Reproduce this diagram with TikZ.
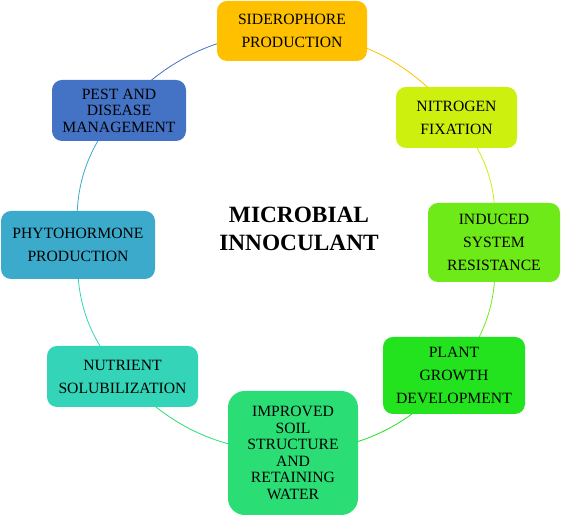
\documentclass[tikz,border=0pt]{standalone}
\usepackage{fontspec}
\setmainfont{Liberation Serif}
\usetikzlibrary{positioning,backgrounds}
\definecolor{sidero}{HTML}{FFC000}
\definecolor{nitro}{HTML}{CDF00E}
\definecolor{induced}{HTML}{6EEA18}
\definecolor{growth}{HTML}{22E31D}
\definecolor{soil}{HTML}{2ADD75}
\definecolor{nutri}{HTML}{33D4B8}
\definecolor{phyto}{HTML}{3BAACB}
\definecolor{pest}{HTML}{4472C4}

\begin{document}
\begin{tikzpicture}[x=0.75pt,y=0.75pt,
  box/.style={rounded corners=7.5pt,align=center,inner sep=0pt,font=\fontsize{11.75}{17.25}\selectfont},
  tight/.style={font=\fontsize{11.75}{12.4}\selectfont},
  link/.style={line width=0.6pt}]
\useasboundingbox (0,0) rectangle (561,516);
\node[box,fill=sidero,minimum width=112.5pt,minimum height=45pt] (sid) at (292,485) {SIDEROPHORE\\PRODUCTION};
\node[box,fill=nitro,minimum width=90.75pt,minimum height=45.75pt] (nit) at (456.5,398.5) {NITROGEN\\FIXATION};
\node[box,fill=induced,minimum width=99pt,minimum height=59.25pt] (ind) at (494,273.5) {INDUCED\\SYSTEM\\RESISTANCE};
\node[box,fill=growth,minimum width=106.5pt,minimum height=57.75pt] (pla) at (454,140.5) {PLANT\\GROWTH\\DEVELOPMENT};
\node[box,tight,fill=soil,rounded corners=12.5pt,minimum width=97.5pt,minimum height=93pt] (imp) at (293,63) {IMPROVED\\SOIL\\STRUCTURE\\AND\\RETAINING\\WATER};
\node[box,fill=nutri,minimum width=113.25pt,minimum height=45.75pt] (nut) at (122.5,139.5) {NUTRIENT\\SOLUBILIZATION};
\node[box,fill=phyto,minimum width=115.5pt,minimum height=51pt] (phy) at (78,271) {PHYTOHORMONE\\PRODUCTION};
\node[box,tight,fill=pest,minimum width=100.5pt,minimum height=45.75pt] (pes) at (119,405.5) {PEST AND\\DISEASE\\MANAGEMENT};
\node[align=center,font=\fontsize{17.5}{21}\selectfont\bfseries] (mic) at (299,287) {MICROBIAL\\INNOCULANT};
\begin{scope}[on background layer]
\foreach \a/\b/\c in {sid/nit/sidero,nit/ind/nitro,ind/pla/induced,pla/imp/growth,imp/nut/soil,nut/phy/nutri,phy/pes/phyto,pes/sid/pest}
  \draw[link,\c] (\a.center) to[bend left=22] (\b.center);
\end{scope}
\end{tikzpicture}
\end{document}
